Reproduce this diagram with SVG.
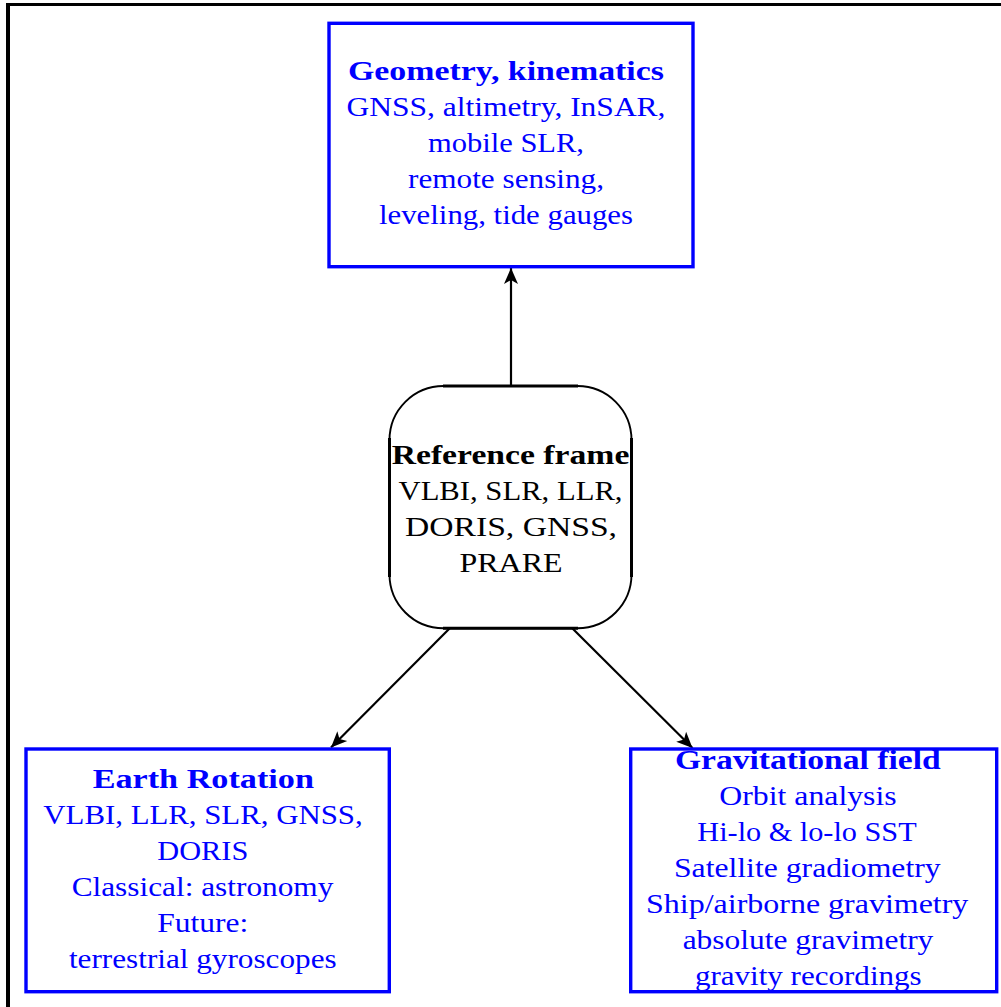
<svg xmlns="http://www.w3.org/2000/svg" width="1001" height="1007" viewBox="0 0 1001 1007">
  <style>
    .box { fill: #ffffff; stroke: #0000ff; stroke-width: 3.4; }
    .hub { fill: #ffffff; stroke: #000000; stroke-width: 1.9; }
    .hub-edge { stroke: #000000; stroke-width: 3; fill: none; }
    .frame { stroke: #000000; fill: none; }
    text { font-family: "Liberation Serif", "Times New Roman", serif; font-size: 28px; text-anchor: middle; }
    .blue { fill: #0000ff; }
    .black { fill: #000000; }
    .bold { font-weight: bold; }
    .link { stroke: #000000; stroke-width: 2.2; fill: none; marker-end: url(#tip); }
  </style>
  <defs>
    <marker id="tip" markerUnits="userSpaceOnUse" markerWidth="20" markerHeight="16" viewBox="-18 -8 20 16" refX="0" refY="0" orient="auto">
      <path d="M0,0 L-16,-7 L-12,0 L-16,7 Z" fill="#000000"/>
    </marker>
  </defs>

  <rect width="1001" height="1007" fill="#ffffff"/>

  <!-- outer frame -->
  <g id="frame">
    <line class="frame" x1="8" y1="3" x2="8" y2="1007" stroke-width="4"/>
    <line class="frame" x1="6" y1="4.5" x2="1001" y2="4.5" stroke-width="3"/>
  </g>

  <!-- connectors -->
  <g id="connectors">
    <line class="link" x1="511" y1="386" x2="511" y2="268"/>
    <line class="link" x1="450" y1="628" x2="331" y2="747.5"/>
    <line class="link" x1="572" y1="628" x2="692.5" y2="748"/>
  </g>

  <!-- geometry / kinematics -->
  <g id="geometry">
    <rect class="box" x="329" y="23.3" width="364" height="243.4"/>
    <text class="blue bold" x="506" y="80" textLength="316" lengthAdjust="spacingAndGlyphs">Geometry, kinematics</text>
    <text class="blue" x="506" y="116" textLength="319" lengthAdjust="spacingAndGlyphs">GNSS, altimetry, InSAR,</text>
    <text class="blue" x="506" y="152" textLength="156" lengthAdjust="spacingAndGlyphs">mobile SLR,</text>
    <text class="blue" x="506" y="188" textLength="196" lengthAdjust="spacingAndGlyphs">remote sensing,</text>
    <text class="blue" x="506" y="224" textLength="254" lengthAdjust="spacingAndGlyphs">leveling, tide gauges</text>
  </g>

  <!-- reference frame hub -->
  <g id="reference-frame">
    <rect class="hub" x="389.5" y="386" width="242" height="242.3" rx="54" ry="54"/>
    <line class="hub-edge" x1="443" y1="386" x2="578" y2="386"/>
    <line class="hub-edge" x1="443" y1="628.3" x2="578" y2="628.3"/>
    <line class="hub-edge" x1="389.5" y1="438" x2="389.5" y2="577"/>
    <line class="hub-edge" x1="631.5" y1="438" x2="631.5" y2="577"/>
    <text class="black bold" x="510.5" y="464.3" textLength="237.7" lengthAdjust="spacingAndGlyphs">Reference frame</text>
    <text class="black" x="510.5" y="500.3" textLength="224" lengthAdjust="spacingAndGlyphs">VLBI, SLR, LLR,</text>
    <text class="black" x="511" y="536" textLength="212" lengthAdjust="spacingAndGlyphs">DORIS, GNSS,</text>
    <text class="black" x="511" y="572" textLength="103" lengthAdjust="spacingAndGlyphs">PRARE</text>
  </g>

  <!-- earth rotation -->
  <g id="earth-rotation">
    <rect class="box" x="26" y="749" width="363.3" height="242.7"/>
    <text class="blue bold" x="203.3" y="788" textLength="221.3" lengthAdjust="spacingAndGlyphs">Earth Rotation</text>
    <text class="blue" x="203" y="824" textLength="319.3" lengthAdjust="spacingAndGlyphs">VLBI, LLR, SLR, GNSS,</text>
    <text class="blue" x="202.8" y="860" textLength="91" lengthAdjust="spacingAndGlyphs">DORIS</text>
    <text class="blue" x="202.5" y="896" textLength="261.7" lengthAdjust="spacingAndGlyphs">Classical: astronomy</text>
    <text class="blue" x="202.8" y="932" textLength="91" lengthAdjust="spacingAndGlyphs">Future:</text>
    <text class="blue" x="202.8" y="968" textLength="267.7" lengthAdjust="spacingAndGlyphs">terrestrial gyroscopes</text>
  </g>

  <!-- gravitational field -->
  <g id="gravitational-field">
    <rect class="box" x="630.7" y="749" width="366" height="242.7"/>
    <text class="blue bold" x="807.8" y="769.3" textLength="265.7" lengthAdjust="spacingAndGlyphs">Gravitational field</text>
    <text class="blue" x="808" y="805" textLength="177.3" lengthAdjust="spacingAndGlyphs">Orbit analysis</text>
    <text class="blue" x="807" y="841" textLength="219.3" lengthAdjust="spacingAndGlyphs">Hi-lo &amp; lo-lo SST</text>
    <text class="blue" x="807.3" y="877" textLength="266.7" lengthAdjust="spacingAndGlyphs">Satellite gradiometry</text>
    <text class="blue" x="807.2" y="913" textLength="322.3" lengthAdjust="spacingAndGlyphs">Ship/airborne gravimetry</text>
    <text class="blue" x="808" y="949" textLength="250.7" lengthAdjust="spacingAndGlyphs">absolute gravimetry</text>
    <text class="blue" x="808.3" y="985" textLength="226.7" lengthAdjust="spacingAndGlyphs">gravity recordings</text>
  </g>
</svg>
